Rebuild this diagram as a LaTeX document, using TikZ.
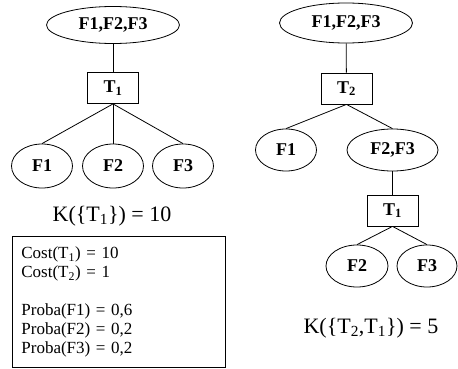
\documentclass[tikz,border=0pt]{standalone}
\usepackage{fontspec}
\setmainfont{Liberation Serif}
\usetikzlibrary{shapes.geometric}

\begin{document}
\begin{tikzpicture}[x=1pt,y=-1pt,line width=0.8pt,
    set/.style={draw,ellipse,inner sep=0pt,minimum height=42pt,
      font=\fontsize{18}{20}\selectfont\bfseries},
    test/.style={draw,rectangle,inner sep=0pt,minimum width=51pt,minimum height=31pt,
      font=\fontsize{18}{20}\selectfont\bfseries},
    cost/.style={font=\fontsize{22}{24}\selectfont,anchor=base}]
      \useasboundingbox (0,0) rectangle (458,369);
      \node (L) [set,minimum width=133pt,minimum height=37pt] at (113,25) {F1,F2,F3};
      \node (LT1) [test] at (113,88) {T\textsubscript{1}};
      \node (LF1) [set,minimum width=61pt,minimum height=44pt] at (42,166) {F1};
      \node (LF2) [set,minimum width=61pt,minimum height=44pt] at (113,166) {F2};
      \node (LF3) [set,minimum width=61pt,minimum height=44pt] at (183,166) {F3};
      \draw (L) -- (LT1);
      \draw (LT1.south) -- (LF1.north);
      \draw (LT1.south) -- (LF2.north);
      \draw (LT1.south) -- (LF3.north);
      \node (LK) [cost] at (112,221) {K(\{T\textsubscript{1}\}) = 10};
%%
      \node (R) [set,minimum width=133pt,minimum height=40pt] at (346,23) {F1,F2,F3};
      \node (RT2) [test] at (346.5,88.5) {T\textsubscript{2}};
      \node (RF1) [set,minimum width=61pt] at (286,150) {F1};
      \node (RF23) [set,minimum width=91pt] at (392.5,150) {F2,F3};
      \node (RT1) [test] at (392.5,210.5) {T\textsubscript{1}};
      \node (RF2) [set,minimum width=62pt] at (357,266) {F2};
      \node (RF3) [set,minimum width=60pt] at (427,266) {F3};
      \draw (R) -- (RT2);
      \draw (RT2.south) -- (RF1.north);
      \draw (RT2.south) -- (RF23.north);
      \draw (RF23) -- (RT1);
      \draw (RT1.south) -- (RF2.north);
      \draw (RT1.south) -- (RF3.north);
      \node (RK) [cost] at (371,333) {K(\{T\textsubscript{2},T\textsubscript{1}\}) = 5};
%%
      \node (data) [draw,anchor=north west,text width=195pt,inner xsep=9pt,inner ysep=0pt,
        minimum height=131pt,align=left,font=\fontsize{17}{19}\selectfont] at (12,236)
        {Cost(T\textsubscript{1}) = 10\\ Cost(T\textsubscript{2}) = 1\\[19pt]
         Proba(F1) = 0,6\\ Proba(F2) = 0,2\\ Proba(F3) = 0,2};
    \end{tikzpicture}
\end{document}
